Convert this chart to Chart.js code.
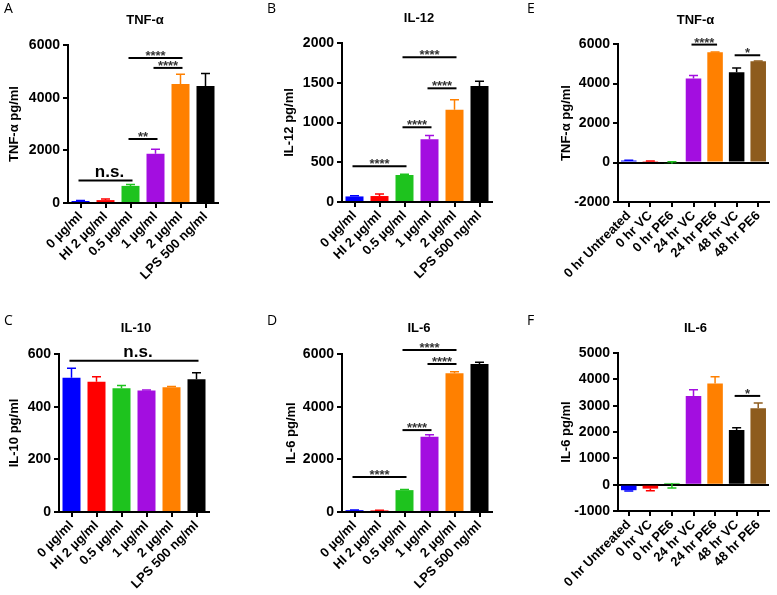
<!DOCTYPE html>
<html>
<head>
<meta charset="utf-8">
<script src="https://cdn.jsdelivr.net/npm/chart.js@4.4.1/dist/chart.umd.min.js"></script>
<style>
  body { margin: 0; background: #fff; width: 777px; height: 595px; position: relative; overflow: hidden; }
  canvas { position: absolute; }
</style>
</head>
<body>
<canvas id="cA" width="260" height="300" style="left:0;top:0"></canvas>
<canvas id="cB" width="260" height="300" style="left:260px;top:0"></canvas>
<canvas id="cE" width="257" height="300" style="left:520px;top:0"></canvas>
<canvas id="cC" width="260" height="295" style="left:0;top:300px"></canvas>
<canvas id="cD" width="260" height="295" style="left:260px;top:300px"></canvas>
<canvas id="cF" width="257" height="295" style="left:520px;top:300px"></canvas>
<script>
// --- data ---
const doseLabels = ['0 µg/ml', 'HI 2 µg/ml', '0.5 µg/ml', '1 µg/ml', '2 µg/ml', 'LPS 500 ng/ml'];
const timeLabels = ['0 hr Untreated', '0 hr VC', '0 hr PE6', '24 hr VC', '24 hr PE6', '48 hr VC', '48 hr PE6'];

const tnfDose = [75, 110, 650, 1870, 4520, 4440];
const tnfDoseErr = [20, 40, 50, 170, 370, 480];
const tnfDoseSig = [
  { from: 0, to: 2, y: 850, text: 'n.s.' },
  { from: 2, to: 3, y: 2430, text: '**' },
  { from: 2, to: 4, y: 5510, text: '****' },
  { from: 3, to: 4, y: 5130, text: '****' }
];

const il12Dose = [70, 75, 340, 790, 1160, 1460];
const il12DoseErr = [10, 25, 10, 45, 125, 60];
const il12DoseSig = [
  { from: 0, to: 2, y: 450, text: '****' },
  { from: 2, to: 3, y: 940, text: '****' },
  { from: 3, to: 4, y: 1430, text: '****' },
  { from: 2, to: 4, y: 1820, text: '****' }
];

const il10Dose = [510, 495, 470, 461, 474, 504];
const il10DoseErr = [36, 19, 10, 2, 3, 25];
const il10DoseSig = [{ from: 0, to: 5, y: 574, text: 'n.s.' }];

const il6Dose = [70, 60, 830, 2860, 5270, 5620];
const il6DoseErr = [10, 10, 25, 70, 60, 70];
const il6DoseSig = [
  { from: 0, to: 2, y: 1330, text: '****' },
  { from: 2, to: 3, y: 3110, text: '****' },
  { from: 3, to: 4, y: 5620, text: '****' },
  { from: 2, to: 4, y: 6150, text: '****' }
];

const tnfTime = [100, 70, -60, 4250, 5580, 4570, 5125];
const tnfTimeErr = [20, 10, 100, 150, 20, 220, 20];
const tnfTimeSig = [
  { from: 3, to: 4, y: 5970, text: '****' },
  { from: 5, to: 6, y: 5430, text: '*' }
];

const il6Time = [-210, -150, 65, 3370, 3840, 2075, 2900];
const il6TimeErr = [-30, -80, -190, 230, 260, 90, 205];
const il6TimeSig = [{ from: 5, to: 6, y: 3370, text: '*' }];

const doseColors = ['#0000ff', '#ff0000', '#1ec31e', '#a30ee0', '#ff8000', '#000000'];
const timeColors = ['#0000ff', '#ff0000', '#1ec31e', '#a30ee0', '#ff8000', '#000000', '#8e5c1e'];

const FONT = '"Liberation Sans", Arial, sans-serif';
Chart.defaults.font.family = FONT;
Chart.defaults.color = '#000';

// error bars, significance brackets, panel title and letter
const extras = {
  id: 'extras',
  afterDatasetsDraw(chart, args, o) {
    const { ctx, scales: { x, y } } = chart;
    const ds = chart.data.datasets[0];
    ctx.save();
    ds.data.forEach((v, i) => {
      const px = x.getPixelForValue(i);
      const y0 = y.getPixelForValue(v);
      const y1 = y.getPixelForValue(v + o.err[i]);
      ctx.strokeStyle = ds.backgroundColor[i];
      ctx.lineWidth = 1.5;
      ctx.beginPath();
      ctx.moveTo(px, y0); ctx.lineTo(px, y1);
      ctx.moveTo(px - 4.5, y1); ctx.lineTo(px + 4.5, y1);
      ctx.stroke();
    });
    o.sig.forEach(s => {
      const xa = x.getPixelForValue(s.from) - 2;
      const xb = x.getPixelForValue(s.to) + 2;
      const yy = y.getPixelForValue(s.y);
      ctx.strokeStyle = '#000';
      ctx.lineWidth = 2;
      ctx.beginPath();
      ctx.moveTo(xa, yy); ctx.lineTo(xb, yy);
      ctx.stroke();
      ctx.textAlign = 'center';
      ctx.textBaseline = 'alphabetic';
      if (s.text === 'n.s.') {
        ctx.fillStyle = '#000';
        ctx.font = 'bold 17px ' + FONT;
        ctx.fillText(s.text, (xa + xb) / 2 + 4, yy - 4);
      } else {
        ctx.fillStyle = '#333';
        ctx.font = 'bold 13px ' + FONT;
        ctx.fillText(s.text, (xa + xb) / 2, yy + 2);
      }
    });
    ctx.restore();
  },
  afterDraw(chart, args, o) {
    const { ctx, chartArea } = chart;
    ctx.save();
    ctx.fillStyle = '#000';
    ctx.textBaseline = 'middle';
    ctx.textAlign = 'center';
    ctx.font = 'bold 13px ' + FONT;
    ctx.fillText(o.title, (chartArea.left + chartArea.right) / 2 + 2, o.titleY);
    ctx.textAlign = 'left';
    ctx.font = '14px "Open Sans", sans-serif';
    ctx.fillText(o.letter, o.letterX, o.letterY);
    ctx.restore();
  }
};

function panel(id, p) {
  new Chart(document.getElementById(id), {
    type: 'bar',
    data: {
      labels: p.labels,
      datasets: [{
        data: p.values,
        backgroundColor: p.colors,
        borderWidth: 0,
        barPercentage: 0.72,
        categoryPercentage: 1
      }]
    },
    options: {
      responsive: false,
      animation: false,
      layout: { padding: { top: p.top, right: p.right, bottom: 0, left: 0 } },
      plugins: {
        legend: { display: false },
        tooltip: { enabled: false },
        extras: { err: p.err, sig: p.sig, title: p.title, titleY: p.titleY, letter: p.letter, letterX: p.letterX, letterY: p.letterY }
      },
      scales: {
        x: {
          afterFit: s => { s.height = p.xh; },
          grid: { display: true, drawOnChartArea: false, offset: false, tickLength: 5, tickColor: '#000', lineWidth: 2 },
          border: { display: true, color: '#000', width: 2 },
          ticks: { autoSkip: false, minRotation: 45, maxRotation: 45, padding: 1, font: { size: 13, weight: 'bold' } }
        },
        y: {
          min: p.min, max: p.max,
          afterFit: s => { s.width = p.yw; },
          ticks: { stepSize: p.step, padding: 3, font: { size: 14, weight: 'bold' }, callback: v => String(v) },
          grid: {
            drawOnChartArea: true, tickLength: 5, lineWidth: 2, tickColor: '#000',
            color: c => (c.tick && c.tick.value === 0 ? '#000' : 'rgba(0,0,0,0)')
          },
          border: { display: true, color: '#000', width: 2 },
          title: { display: true, text: p.yTitle, font: { size: 13, weight: 'bold' }, padding: { top: p.yTitlePad, bottom: 0 } }
        }
      }
    },
    plugins: [extras]
  });
}

panel('cA', { labels: doseLabels, values: tnfDose, err: tnfDoseErr, sig: tnfDoseSig, colors: doseColors,
  min: 0, max: 6000, step: 2000, title: 'TNF-α', yTitle: 'TNF-α pg/ml', letter: 'A',
  top: 45, right: 42, yw: 68, xh: 97, titleY: 20, letterX: 4, letterY: 9, yTitlePad: 7 });
panel('cB', { labels: doseLabels, values: il12Dose, err: il12DoseErr, sig: il12DoseSig, colors: doseColors,
  min: 0, max: 2000, step: 500, title: 'IL-12', yTitle: 'IL-12 pg/ml', letter: 'B',
  top: 43, right: 28, yw: 82, xh: 98, titleY: 18, letterX: 7, letterY: 9, yTitlePad: 22 });
panel('cE', { labels: timeLabels, values: tnfTime, err: tnfTimeErr, sig: tnfTimeSig, colors: timeColors,
  min: -2000, max: 6000, step: 2000, title: 'TNF-α', yTitle: 'TNF-α pg/ml', letter: 'E',
  top: 44, right: 8, yw: 98, xh: 98, titleY: 20, letterX: 7, letterY: 9, yTitlePad: 39 });
panel('cC', { labels: doseLabels, values: il10Dose, err: il10DoseErr, sig: il10DoseSig, colors: doseColors,
  min: 0, max: 600, step: 200, title: 'IL-10', yTitle: 'IL-10 pg/ml', letter: 'C',
  top: 54, right: 51, yw: 59, xh: 83, titleY: 28, letterX: 4, letterY: 21, yTitlePad: 7 });
panel('cD', { labels: doseLabels, values: il6Dose, err: il6DoseErr, sig: il6DoseSig, colors: doseColors,
  min: 0, max: 6000, step: 2000, title: 'IL-6', yTitle: 'IL-6 pg/ml', letter: 'D',
  top: 54, right: 28, yw: 82, xh: 83, titleY: 28, letterX: 7, letterY: 21, yTitlePad: 24 });
panel('cF', { labels: timeLabels, values: il6Time, err: il6TimeErr, sig: il6TimeSig, colors: timeColors,
  min: -1000, max: 5000, step: 1000, title: 'IL-6', yTitle: 'IL-6 pg/ml', letter: 'F',
  top: 53, right: 8, yw: 98, xh: 84, titleY: 28, letterX: 7, letterY: 21, yTitlePad: 39 });
</script>
</body>
</html>
